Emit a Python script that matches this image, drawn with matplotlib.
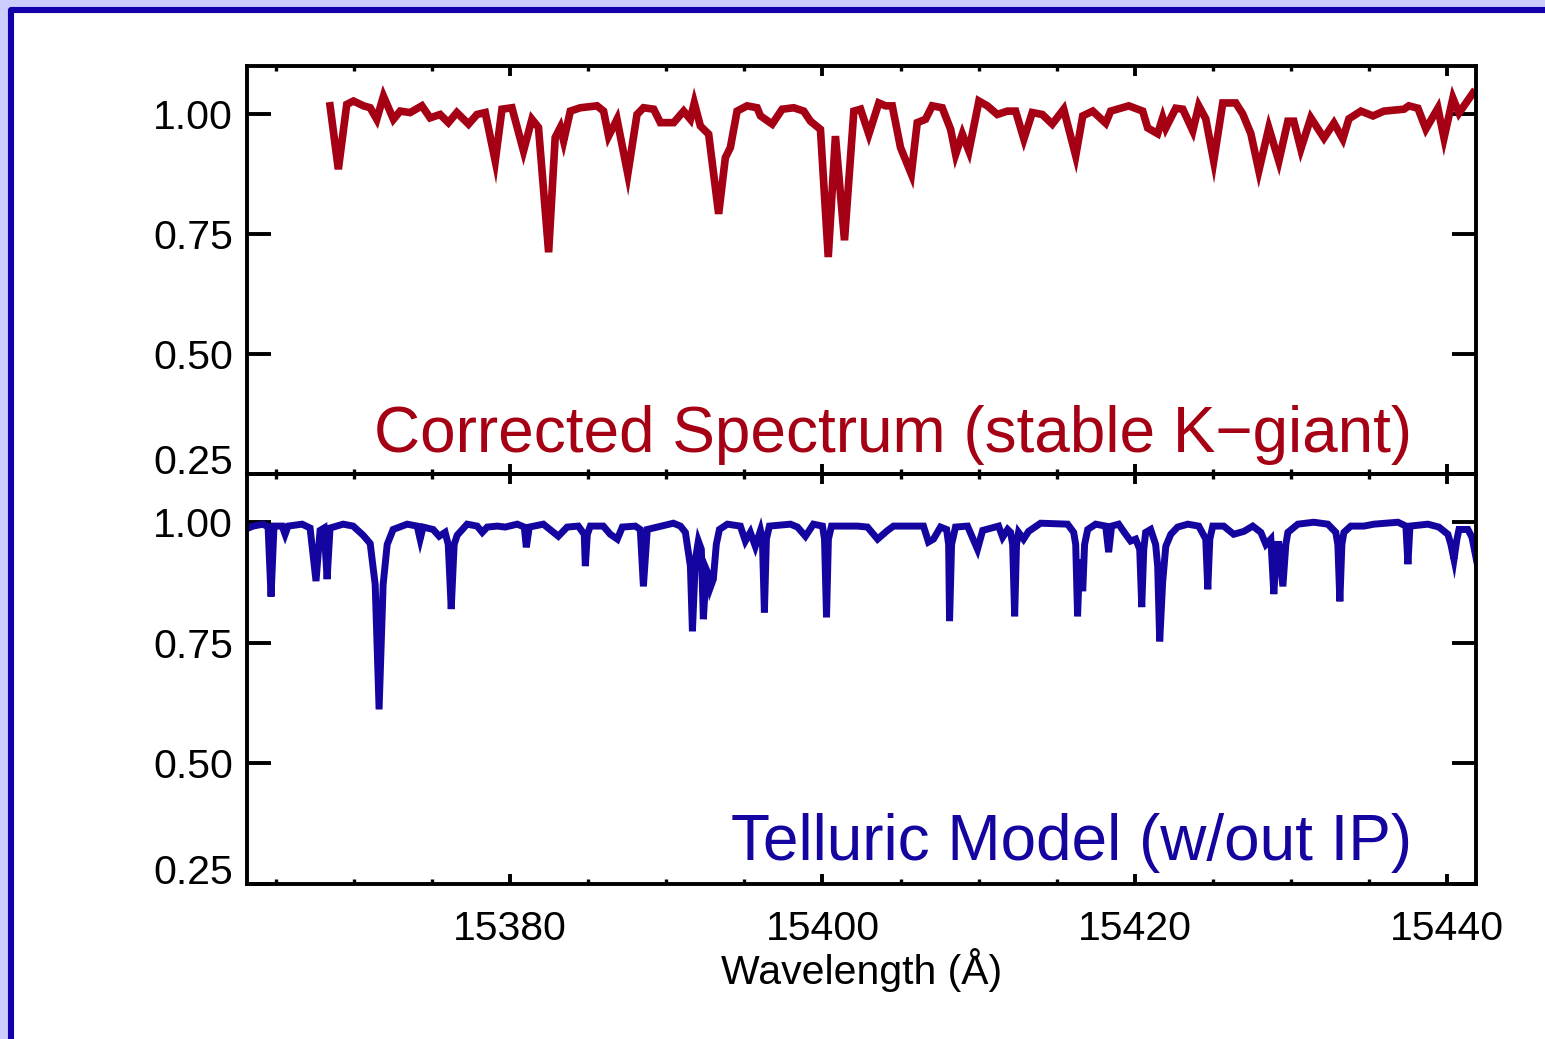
import matplotlib
matplotlib.use("Agg")
import matplotlib.pyplot as plt
from matplotlib.patches import Rectangle
from matplotlib.ticker import FixedLocator, MultipleLocator

# Stellar spectrum after telluric correction (wavelength in Angstrom, normalised flux)
star_wave = [
    15368.46, 15368.99, 15369.53, 15369.96, 15370.60, 15371.03, 15371.45, 15371.88,
    15372.52, 15372.95, 15373.59, 15374.34, 15374.87, 15375.51, 15376.04, 15376.58,
    15377.33, 15377.87, 15378.40, 15379.04, 15379.47, 15380.11, 15380.85, 15381.39,
    15381.81, 15382.46, 15382.88, 15383.21, 15383.42, 15383.85, 15384.49, 15385.56,
    15385.98, 15386.30, 15386.84, 15387.53, 15388.12, 15388.54, 15389.19, 15389.62,
    15390.47, 15391.11, 15391.54, 15391.79, 15392.18, 15392.71, 15393.35, 15393.78,
    15394.10, 15394.53, 15395.17, 15395.81, 15396.03, 15396.78, 15397.42, 15398.16,
    15398.80, 15399.23, 15399.87, 15400.37, 15400.83, 15401.41, 15402.01, 15402.44,
    15402.97, 15403.61, 15404.04, 15404.47, 15405.00, 15405.69, 15406.07, 15406.60,
    15407.03, 15407.67, 15408.21, 15408.53, 15408.96, 15409.38, 15410.02, 15410.56,
    15411.20, 15411.84, 15412.37, 15412.90, 15413.44, 15414.08, 15414.72, 15415.45,
    15416.22, 15416.67, 15417.31, 15418.14, 15418.46, 15419.62, 15420.51, 15420.83,
    15421.47, 15421.79, 15421.99, 15422.63, 15423.08, 15423.72, 15424.10, 15424.55,
    15425.06, 15425.64, 15426.47, 15426.92, 15427.44, 15427.95, 15428.59, 15429.23,
    15429.81, 15430.19, 15430.64, 15431.28, 15432.12, 15432.76, 15433.33, 15433.72,
    15434.49, 15435.26, 15435.96, 15437.24, 15437.56, 15438.14, 15438.65, 15439.42,
    15439.81, 15440.38, 15440.77, 15441.67,
]
star_flux = [
    1.017, 0.885, 1.020, 1.027, 1.017, 1.013, 0.989, 1.037,
    0.989, 1.006, 1.003, 1.017, 0.992, 0.999, 0.982, 1.003,
    0.979, 0.999, 1.003, 0.902, 1.010, 1.013, 0.923, 0.989,
    0.972, 0.712, 0.951, 0.972, 0.944, 1.006, 1.013, 1.017,
    1.006, 0.954, 0.989, 0.875, 0.999, 1.013, 1.010, 0.982,
    0.982, 1.006, 0.989, 1.023, 0.975, 0.958, 0.792, 0.909,
    0.930, 1.006, 1.017, 1.013, 0.996, 0.979, 1.010, 1.013,
    1.006, 0.985, 0.968, 0.702, 0.954, 0.737, 1.006, 1.010,
    0.958, 1.023, 1.017, 1.017, 0.930, 0.875, 0.982, 0.989,
    1.017, 1.013, 0.968, 0.916, 0.958, 0.923, 1.027, 1.017,
    0.999, 1.006, 1.006, 0.948, 1.003, 0.999, 0.979, 1.010,
    0.913, 0.996, 1.006, 0.981, 1.006, 1.017, 1.006, 0.971,
    0.959, 0.992, 0.971, 1.012, 1.010, 0.965, 1.017, 0.990,
    0.902, 1.023, 1.023, 1.000, 0.959, 0.882, 0.971, 0.902,
    0.985, 0.985, 0.927, 0.992, 0.950, 0.981, 0.948, 0.990,
    1.006, 0.996, 1.006, 1.010, 1.017, 1.012, 0.969, 1.012,
    0.950, 1.033, 1.002, 1.044,
]

# Telluric absorption model without instrumental profile
tell_wave = [
    15363.01, 15363.53, 15364.17, 15364.49, 15364.68, 15364.87, 15365.39, 15365.58,
    15365.77, 15366.67, 15367.18, 15367.56, 15367.82, 15368.08, 15368.27, 15368.46,
    15369.30, 15369.94, 15370.58, 15371.03, 15371.35, 15371.60, 15371.86, 15372.12,
    15372.50, 15373.40, 15374.04, 15374.23, 15374.42, 15375.06, 15375.45, 15375.83,
    15376.03, 15376.22, 15376.41, 15376.60, 15377.24, 15377.88, 15378.21, 15378.53,
    15379.17, 15379.68, 15380.45, 15380.90, 15381.03, 15381.22, 15382.12, 15383.08,
    15383.65, 15384.36, 15384.74, 15384.81, 15384.94, 15385.13, 15385.96, 15386.41,
    15386.86, 15387.18, 15388.01, 15388.33, 15388.53, 15388.78, 15390.45, 15390.90,
    15391.22, 15391.54, 15391.67, 15391.86, 15392.05, 15392.24, 15392.37, 15392.56,
    15392.69, 15392.82, 15393.01, 15393.20, 15393.40, 15393.91, 15394.74, 15395.06,
    15395.38, 15395.70, 15396.03, 15396.15, 15396.28, 15396.41, 15396.60, 15397.95,
    15398.40, 15398.91, 15399.42, 15400.00, 15400.13, 15400.26, 15400.38, 15400.58,
    15402.24, 15402.88, 15403.53, 15404.17, 15404.55, 15406.47, 15406.79, 15407.11,
    15407.56, 15407.95, 15408.08, 15408.14, 15408.27, 15408.52, 15409.29, 15409.93,
    15410.26, 15411.28, 15411.54, 15411.86, 15412.05, 15412.18, 15412.31, 15412.43,
    15412.56, 15412.88, 15413.20, 15413.97, 15415.70, 15416.09, 15416.22, 15416.34,
    15416.47, 15416.67, 15416.79, 15416.99, 15417.50, 15418.14, 15418.33, 15418.52,
    15418.97, 15419.42, 15419.74, 15420.06, 15420.32, 15420.45, 15420.58, 15420.70,
    15421.02, 15421.34, 15421.47, 15421.60, 15421.79, 15421.99, 15422.31, 15422.75,
    15423.40, 15424.10, 15424.55, 15424.68, 15424.81, 15425.00, 15425.70, 15426.34,
    15426.99, 15427.56, 15428.08, 15428.40, 15428.72, 15428.91, 15429.10, 15429.23,
    15429.49, 15429.68, 15429.81, 15430.45, 15431.47, 15432.37, 15432.88, 15433.01,
    15433.14, 15433.27, 15433.40, 15433.84, 15434.68, 15435.32, 15436.86, 15437.37,
    15437.50, 15437.63, 15438.78, 15439.48, 15440.06, 15440.25, 15440.45, 15440.64,
    15440.77, 15441.34, 15441.60, 15441.92,
]
tell_flux = [
    0.985, 0.992, 0.996, 0.990, 0.846, 0.992, 0.992, 0.975,
    0.992, 0.996, 0.988, 0.878, 0.983, 0.988, 0.882, 0.988,
    0.996, 0.992, 0.973, 0.956, 0.871, 0.612, 0.871, 0.954,
    0.985, 0.996, 0.992, 0.965, 0.990, 0.985, 0.971, 0.979,
    0.954, 0.820, 0.954, 0.973, 0.996, 0.992, 0.979, 0.990,
    0.992, 0.990, 0.996, 0.990, 0.948, 0.990, 0.996, 0.971,
    0.990, 0.992, 0.975, 0.909, 0.975, 0.992, 0.992, 0.975,
    0.965, 0.990, 0.992, 0.985, 0.867, 0.985, 0.998, 0.992,
    0.979, 0.909, 0.774, 0.923, 0.961, 0.944, 0.799, 0.902,
    0.892, 0.865, 0.882, 0.954, 0.985, 0.996, 0.992, 0.961,
    0.979, 0.950, 0.983, 0.965, 0.813, 0.965, 0.992, 0.996,
    0.990, 0.971, 0.996, 0.992, 0.965, 0.803, 0.965, 0.992,
    0.992, 0.990, 0.965, 0.983, 0.992, 0.992, 0.959, 0.965,
    0.990, 0.985, 0.954, 0.795, 0.954, 0.990, 0.992, 0.944,
    0.983, 0.992, 0.969, 0.985, 0.979, 0.954, 0.805, 0.954,
    0.979, 0.965, 0.981, 0.998, 0.996, 0.979, 0.954, 0.805,
    0.923, 0.857, 0.954, 0.985, 0.996, 0.992, 0.938, 0.992,
    0.996, 0.975, 0.961, 0.965, 0.944, 0.824, 0.944, 0.979,
    0.985, 0.954, 0.909, 0.753, 0.876, 0.950, 0.975, 0.990,
    0.996, 0.992, 0.965, 0.861, 0.965, 0.992, 0.992, 0.975,
    0.981, 0.992, 0.979, 0.954, 0.965, 0.851, 0.954, 0.954,
    0.867, 0.954, 0.979, 0.996, 1.000, 0.996, 0.979, 0.954,
    0.836, 0.954, 0.979, 0.992, 0.992, 0.996, 1.000, 0.992,
    0.913, 0.992, 0.996, 0.990, 0.975, 0.954, 0.923, 0.965,
    0.985, 0.985, 0.969, 0.917,
]

y_ticks = [0.25, 0.50, 0.75, 1.00]
y_tick_labels = ["0.25", "0.50", "0.75", "1.00"]
x_ticks = [15380, 15400, 15420, 15440]
x_tick_labels = ["15380", "15400", "15420", "15440"]

RED = "#a50014"
BLUE = "#1405a0"
FRAME = "#1100aa"
FONT = "Liberation Sans"

plt.rcParams["font.family"] = [FONT, "DejaVu Sans"]

W, H = 1545, 1039
fig = plt.figure(figsize=(W / 100, H / 100), dpi=100)
fig.patch.set_facecolor("#ccccff")

# white page with a dark blue frame along its top and left edges
page = Rectangle((11 / W, -0.2), 1.5, (H - 10) / H + 0.2, transform=fig.transFigure,
                 facecolor="white", edgecolor=FRAME, linewidth=4.4,
                 joinstyle="round", zorder=-10)
fig.patches.append(page)

left, right = 247 / W, 1476 / W
top_y, mid_y, bot_y = 1 - 66 / H, 1 - 474 / H, 1 - 884 / H
ax_top = fig.add_axes([left, mid_y, right - left, top_y - mid_y])
ax_bot = fig.add_axes([left, bot_y, right - left, mid_y - bot_y], sharex=ax_top)

xlim = (15363.14, 15441.86)
ylim = (0.25, 1.10)

ax_top.plot(star_wave, star_flux, color=RED, lw=5.5, solid_joinstyle="miter")
ax_bot.plot(tell_wave, tell_flux, color=BLUE, lw=5.0, solid_joinstyle="miter")

for ax in (ax_top, ax_bot):
    ax.set_facecolor("none")
    ax.set_xlim(*xlim)
    ax.set_ylim(*ylim)
    for sp in ax.spines.values():
        sp.set_linewidth(2.8)
    ax.xaxis.set_major_locator(FixedLocator(x_ticks))
    ax.xaxis.set_minor_locator(MultipleLocator(5))
    ax.yaxis.set_major_locator(FixedLocator(y_ticks))
    ax.set_yticklabels(y_tick_labels)
    ax.tick_params(axis="x", which="major", direction="in", length=7, width=2.8,
                   top=True, bottom=True)
    ax.tick_params(axis="x", which="minor", direction="in", length=3.5, width=2.4,
                   top=True, bottom=True)
    ax.tick_params(axis="y", which="major", direction="in", length=17, width=2.8,
                   left=True, right=True, labelsize=29.5, pad=10)
    for lab in ax.get_yticklabels():
        lab.set_fontfamily([FONT, "DejaVu Sans"])
        if lab.get_text() == "0.25":
            lab.set_verticalalignment("baseline")

ax_top.tick_params(axis="x", labelbottom=False)
ax_bot.set_xticklabels(x_tick_labels)
ax_bot.tick_params(axis="x", which="major", labelsize=29.5, pad=19)
ax_bot.set_xlabel("Wavelength (Å)", fontsize=29.5, labelpad=0)

ax_top.text(0.948, 0.054, "Corrected Spectrum (stable K\u2212giant)", transform=ax_top.transAxes,
            ha="right", va="baseline", fontsize=46, color=RED)
ax_bot.text(0.948, 0.0585, "Telluric Model (w/out IP)", transform=ax_bot.transAxes,
            ha="right", va="baseline", fontsize=46, color=BLUE)

fig.savefig("out.png", dpi=100, facecolor=fig.get_facecolor())
